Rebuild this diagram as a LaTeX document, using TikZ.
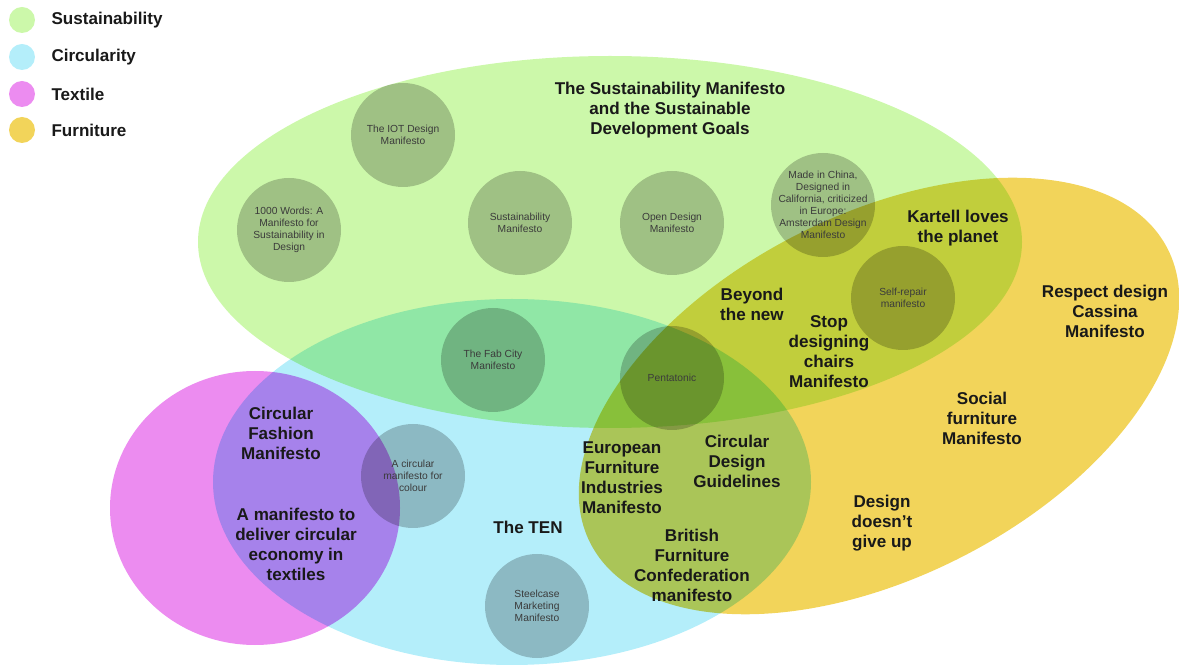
\documentclass[tikz,border=0pt]{standalone}
\usepackage{fontspec}
\setmainfont{Liberation Sans}
\usetikzlibrary{positioning}

\definecolor{sustgreen}{RGB}{204,248,170}
\definecolor{circcyan}{RGB}{180,238,250}
\definecolor{textpink}{RGB}{236,140,240}
\definecolor{furnyellow}{RGB}{242,212,90}
\definecolor{ink}{RGB}{25,25,25}

\tikzset{
  area/.style={blend mode=multiply},
  manif/.style={circle, fill=black, fill opacity=0.22, text opacity=1, minimum size=78pt,
    inner sep=0pt, align=center, text=ink!85, font=\fontsize{7.7}{9}\selectfont},
  setname/.style={align=center, text=ink, font=\bfseries\fontsize{12.8}{15}\selectfont},
  keydot/.style={circle, minimum size=19.5pt, inner sep=0pt},
  keytext/.style={inner sep=0pt, text=ink, font=\bfseries\fontsize{12.8}{15}\selectfont}
}

\begin{document}
\begin{tikzpicture}[x=0.75pt, y=-0.75pt]
\useasboundingbox (0,0) rectangle (1179,666);

% the four sets
\fill[area, sustgreen] (610,242) ellipse [x radius=412, y radius=186];
\fill[area, circcyan] (512,482) ellipse [x radius=299, y radius=183];
\fill[area, textpink] (255,508) ellipse [x radius=145, y radius=137];
\fill[area, furnyellow, rotate around={27:(879,396)}] (879,396) ellipse [x radius=324, y radius=181];

% legend
\node [keydot, fill=sustgreen] (k1) at (22,20) {};
\node [keydot, fill=circcyan] (k2) at (22,57) {};
\node [keydot, fill=textpink] (k3) at (22,94) {};
\node [keydot, fill=furnyellow] (k4) at (22,130) {};
\node [keytext, right = 12pt of k1] (t1) {Sustainability};
\node [keytext, right = 12pt of k2] (t2) {Circularity};
\node [keytext, right = 12pt of k3] (t3) {Textile};
\node [keytext, right = 12pt of k4] (t4) {Furniture};

% manifestos in circles
\node [manif] (iot) at (403,135) {The IOT Design\\Manifesto};
\node [manif] (words) at (289,230) {1000 Words: A\\Manifesto for\\Sustainability in\\Design};
\node [manif] (sust) at (520,223) {Sustainability\\Manifesto};
\node [manif] (open) at (672,223) {Open Design\\Manifesto};
\node [manif, inner sep=-6pt] (china) at (823,205) {Made in China,\\Designed in\\California, criticized\\in Europe:\\Amsterdam Design\\Manifesto};
\node [manif] (repair) at (903,298) {Self-repair\\manifesto};
\node [manif] (fab) at (493,360) {The Fab City\\Manifesto};
\node [manif] (penta) at (672,378) {Pentatonic};
\node [manif] (colour) at (413,476) {A circular\\manifesto for\\colour};
\node [manif] (steel) at (537,606) {Steelcase\\Marketing\\Manifesto};

% manifestos by name
\node [setname] (sdg) at (670,110) {The Sustainability Manifesto\\and the Sustainable\\Development Goals};
\node [setname] (kartell) at (958,228) {Kartell loves\\the planet};
\node [setname] (beyond) at (752,304) {Beyond\\the new};
\node [setname] (chairs) at (829,352) {Stop\\designing\\chairs\\Manifesto};
\node [setname] (cassina) at (1105,311) {Respect design\\Cassina\\Manifesto};
\node [setname] (social) at (982,418) {Social\\furniture\\Manifesto};
\node [setname] (giveup) at (882,523) {Design\\doesn’t\\give up};
\node [setname] (guide) at (737,461) {Circular\\Design\\Guidelines};
\node [setname] (efim) at (622,478) {European\\Furniture\\Industries\\Manifesto};
\node [setname] (bfc) at (692,565) {British\\Furniture\\Confederation\\manifesto};
\node [setname] (ten) at (528,527) {The TEN};
\node [setname] (fashion) at (281,433) {Circular\\Fashion\\Manifesto};
\node [setname] (textiles) at (296,544) {A manifesto to\\deliver circular\\economy in\\textiles};
\end{tikzpicture}
\end{document}
